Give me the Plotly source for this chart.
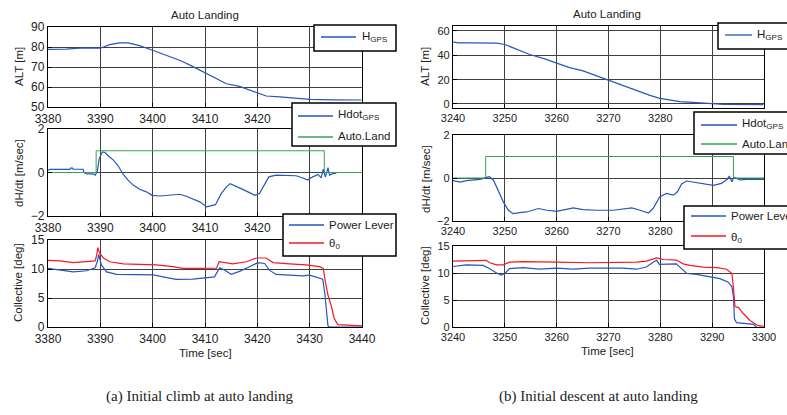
import plotly.graph_objects as go

W, H = 787, 415

# ---------------- Data: panel (a) initial climb ----------------
a_alt_t = [3380, 3383.5, 3386.7, 3389, 3390, 3391.8, 3393.7, 3395.3, 3397.5, 3400, 3402.6, 3405.5,
           3407.7, 3410, 3412.2, 3414.1, 3416.6, 3419.2, 3421.7, 3424.3, 3426.8, 3430, 3434.5, 3439.9]
a_alt = [78.8, 78.9, 79.6, 79.5, 79.4, 81.2, 82.1, 82.1, 80.7, 78.4, 75.8, 73.0,
         70.2, 67.2, 64.0, 61.6, 60.3, 57.8, 55.5, 55.1, 54.6, 53.8, 53.6, 53.5]

a_hdot_t = [3380, 3380.4, 3384.2, 3384.3, 3384.7, 3384.8, 3386.7, 3386.9, 3387.4, 3388.6, 3389, 3389.4,
            3389.8, 3390.4, 3390.9, 3391.5, 3392.5, 3393.4, 3394.4, 3395.3, 3396.3, 3397.5, 3398.8,
            3399.9, 3401.4, 3403.3, 3405.2, 3406.4, 3407.7, 3409, 3410.3, 3411.2, 3412, 3413.1,
            3414.1, 3414.8, 3416, 3416.9, 3418.2, 3419.5, 3420.4, 3421.4, 3422.2, 3423.6, 3425.5,
            3427.4, 3428.7, 3429.6, 3430.6, 3431.6, 3432.2, 3432.6, 3433, 3433.5, 3433.8, 3434.4, 3435.1]
a_hdot = [0.1, 0.14, 0.14, 0.2, 0.2, 0.15, 0.15, 0.0, -0.06, -0.06, -0.12, 0.03,
          0.65, 0.95, 0.92, 0.77, 0.57, 0.31, -0.09, -0.35, -0.58, -0.77, -0.89,
          -1.05, -1.08, -1.05, -1.0, -1.09, -1.23, -1.35, -1.58, -1.51, -1.48, -0.97,
          -0.66, -0.51, -0.66, -0.74, -0.89, -1.05, -0.97, -0.51, -0.2, -0.12, -0.15,
          -0.15, -0.25, -0.35, -0.2, -0.09, -0.25, 0.15, -0.2, 0.22, -0.12, -0.05, -0.03]

a_auto_t = [3380, 3389.2, 3432.8, 3440]
a_auto = [0, 1, 0, 0]

a_pl_t = [3380, 3382.3, 3384.8, 3387.4, 3389, 3389.4, 3389.7, 3390.2, 3391.2, 3393.1, 3397.5, 3400.1,
          3402, 3404.5, 3407.7, 3410.3, 3411.8, 3412.8, 3413.8, 3415, 3416.6, 3418.5, 3420.1,
          3421.4, 3422.3, 3423.6, 3426.8, 3428.7, 3430, 3431.2, 3432.5, 3432.9, 3433.3, 3433.5,
          3433.8, 3440]
a_pl = [10.1, 9.8, 9.5, 9.7, 10.2, 11.25, 12.5, 10.7, 9.5, 9.06, 9.06, 9.0,
        8.65, 8.2, 8.25, 8.5, 8.65, 10.2, 9.8, 9.1, 9.6, 10.4, 11.1,
        10.95, 9.8, 9.06, 8.94, 8.8, 8.94, 8.65, 8.25, 5.77, 2.0, 0.17,
        0.0, 0.0]

a_th_t = [3380, 3382.3, 3384.8, 3387.4, 3389, 3389.3, 3389.5, 3389.9, 3390.6, 3391.8, 3394.4, 3397.5,
          3400.7, 3403.9, 3405.8, 3409, 3412.2, 3412.7, 3414.1, 3415.3, 3417.9, 3419.8, 3421.7,
          3423, 3426.2, 3429.3, 3431.9, 3432.6, 3433, 3433.5, 3434.1, 3434.7, 3435.4, 3437, 3440]
a_th = [11.5, 11.4, 11.1, 11.25, 11.4, 12.4, 13.7, 12.7, 11.9, 11.25, 10.9, 10.8,
        10.7, 10.4, 10.1, 10.1, 10.15, 11.25, 11.1, 10.9, 11.25, 11.9, 11.9,
        11.1, 10.9, 10.7, 10.4, 10.1, 7.8, 5.5, 3.75, 1.44, 0.4, 0.3, 0.2]

# ---------------- Data: panel (b) initial descent ----------------
b_alt_t = [3240, 3241, 3243.9, 3248.4, 3250, 3252.2, 3254.8, 3257.4, 3260, 3262.5, 3265.1, 3267.7,
           3270, 3272.8, 3275.4, 3278, 3279.9, 3281.9, 3283.8, 3287, 3289.6, 3292.2, 3299.9]
b_alt = [51.0, 50.2, 50.2, 50.0, 48.9, 45.1, 40.7, 37.5, 33.4, 29.9, 27.2, 23.1,
         19.3, 15.2, 11.1, 7.1, 4.6, 3.3, 1.9, 1.1, 0.5, -0.3, -0.5]

b_hdot_t = [3240, 3241.4, 3242.6, 3243.9, 3245.2, 3246.5, 3247, 3247.8, 3248.7, 3249.7, 3250.7, 3251.6,
            3252.9, 3254.2, 3256.5, 3258.1, 3260, 3263.2, 3265.1, 3267.7, 3270.9, 3274.5, 3276.1,
            3277.7, 3278.6, 3279.9, 3281.2, 3282.5, 3283.3, 3284.1, 3285.1, 3287, 3288.9, 3290.2,
            3291.8, 3292.9, 3293.3, 3293.8, 3294.2, 3295.4, 3297.3, 3300]
b_hdot = [-0.125, -0.19, -0.125, -0.09, -0.06, 0.03, 0.06, -0.09, -0.56, -1.11, -1.5, -1.66,
          -1.61, -1.58, -1.42, -1.5, -1.55, -1.39, -1.47, -1.5, -1.5, -1.39, -1.5,
          -1.63, -1.42, -0.875, -0.72, -0.8, -0.64, -0.28, -0.14, -0.22, -0.28, -0.34,
          -0.25, -0.06, 0.09, -0.17, 0.03, -0.09, -0.05, -0.06]

b_auto_t = [3240, 3246.3, 3294.1, 3300]
b_auto = [0, 1, 0, 0]

b_pl_t = [3240, 3242.6, 3245.8, 3247.1, 3248.4, 3249.3, 3250, 3250.9, 3253.5, 3256.7, 3260, 3263.2,
          3266.4, 3272.8, 3275.4, 3277.3, 3278.6, 3279.3, 3279.8, 3281.2, 3283.1, 3284.1, 3285.1,
          3287, 3288.9, 3291.5, 3293.1, 3293.8, 3294.1, 3294.3, 3294.7, 3296.7, 3298, 3298.5, 3298.9]
b_pl = [11.2, 11.5, 11.4, 10.8, 10.0, 9.6, 9.9, 10.8, 11.0, 10.7, 10.9, 10.7,
        10.9, 10.9, 10.7, 11.1, 12.0, 12.35, 11.6, 11.7, 11.7, 10.8, 9.9,
        9.75, 9.4, 8.95, 8.3, 7.5, 5.6, 1.5, 0.8, 0.6, 0.5, 0.0, -0.1]

b_th_t = [3240, 3243.9, 3246.4, 3247.1, 3248.4, 3249.7, 3250.9, 3253.5, 3256.7, 3260, 3266.4, 3272.8,
          3275.4, 3277.3, 3279.3, 3280.6, 3283.1, 3284.4, 3285.7, 3288.3, 3290.9, 3292.8, 3293.8,
          3294.1, 3294.4, 3295.1, 3296, 3297.3, 3298.3, 3298.9, 3299.9]
b_th = [12.2, 12.35, 12.35, 11.9, 11.5, 11.5, 12.0, 12.1, 12.0, 12.0, 11.9, 12.0,
        12.0, 12.2, 12.8, 12.5, 12.4, 11.7, 11.4, 11.1, 11.0, 10.7, 9.9,
        7.4, 3.8, 3.6, 2.5, 1.2, 0.5, 0.25, 0.1]

a_xticks = [3380, 3390, 3400, 3410, 3420, 3430, 3440]
b_xticks = [3240, 3250, 3260, 3270, 3280, 3290, 3300]

BLUE = "rgb(38,86,190)"
GREEN = "rgb(60,160,80)"
RED = "rgb(245,25,35)"
TXT = "#222222"
GRID = "#404040"


def px(x):
    return x / W


def py(y):
    return 1 - y / H


fig = go.Figure()

subplots = [
    ("", (48, 362), (27, 107), (3380, 3440), (50, 90), [50, 60, 70, 80, 90], a_xticks, 12),
    ("2", (48, 362), (129, 216), (3380, 3440), (-2, 2), [-2, 0, 2], a_xticks, 12),
    ("3", (48, 362), (240, 327), (3380, 3440), (0, 15), [0, 5, 10, 15], a_xticks, 12),
    ("4", (453, 764), (26, 108), (3240, 3300), (-3.3, 64.1), [0, 20, 40, 60], b_xticks, 11),
    ("5", (453, 764), (135, 221), (3240, 3300), (-2, 2), [-2, 0, 2], b_xticks, 11),
    ("6", (453, 764), (246, 327), (3240, 3300), (0, 15), [0, 5, 10, 15], b_xticks, 11),
]

axis_common = dict(showgrid=True, gridcolor=GRID, gridwidth=1, showline=True, linecolor="black",
                   linewidth=1.3, mirror=True, ticks="inside", ticklen=4, tickcolor="black",
                   zeroline=False, fixedrange=True)

layout_axes = {}
for suf, xd, yd, xr, yr, yt, xt, fs in subplots:
    layout_axes["xaxis" + suf] = dict(domain=[px(xd[0]), px(xd[1])], range=list(xr), tickvals=xt,
                                      anchor="y" + suf,
                                      tickfont=dict(family="Liberation Sans, Arial", size=fs, color=TXT),
                                      **axis_common)
    layout_axes["yaxis" + suf] = dict(domain=[py(yd[1]), py(yd[0])], range=list(yr), tickvals=yt,
                                      anchor="x" + suf,
                                      tickfont=dict(family="Liberation Sans, Arial", size=fs, color=TXT),
                                      **axis_common)


def add_line(x, y, color, ax, shape="linear", width=1.2):
    fig.add_trace(go.Scatter(x=x, y=y, mode="lines", line=dict(color=color, width=width, shape=shape),
                             xaxis="x" + ax, yaxis="y" + ax, showlegend=False, hoverinfo="skip"))


add_line(a_alt_t, a_alt, BLUE, "")
add_line(a_hdot_t, a_hdot, BLUE, "2")
add_line(a_auto_t, a_auto, GREEN, "2", shape="hv", width=1)
add_line(a_pl_t, a_pl, BLUE, "3")
add_line(a_th_t, a_th, RED, "3")
add_line(b_alt_t, b_alt, BLUE, "4")
add_line(b_hdot_t, b_hdot, BLUE, "5")
add_line(b_auto_t, b_auto, GREEN, "5", shape="hv", width=1)
add_line(b_pl_t, b_pl, BLUE, "6")
add_line(b_th_t, b_th, RED, "6")

shapes = []
annotations = []
FONT = "Liberation Sans, Arial"


def legend_box(x0, y0, x1, y1, items):
    shapes.append(dict(type="rect", xref="paper", yref="paper", x0=px(x0), x1=px(x1), y0=py(y1), y1=py(y0),
                       line=dict(color="black", width=1.5), fillcolor="white", layer="above"))
    for lx0, lx1, ly, color, tx, ty, text in items:
        shapes.append(dict(type="line", xref="paper", yref="paper", x0=px(lx0), x1=px(lx1), y0=py(ly), y1=py(ly),
                           line=dict(color=color, width=1.3), layer="above"))
        annotations.append(dict(x=px(tx), y=py(ty), xref="paper", yref="paper", text=text, showarrow=False,
                                xanchor="left", yanchor="middle",
                                font=dict(family=FONT, size=11.5, color=TXT)))


legend_box(314, 25, 396, 51, [(321, 356, 37, BLUE, 360, 37, "H<sub>GPS</sub>")])
legend_box(292, 103, 396, 146, [(298, 333, 116, BLUE, 336, 115, "Hdot<sub>GPS</sub>"),
                                (298, 333, 137, GREEN, 336, 136, "Auto.Land")])
legend_box(283, 214, 396, 256, [(289, 324, 225, BLUE, 327, 225, "Power Lever"),
                                (289, 324, 243, RED, 327, 244, "θ<sub>0</sub>")])
legend_box(718, 23, 805, 49, [(725, 752, 35, BLUE, 755, 35, "H<sub>GPS</sub>")])
legend_box(694, 112, 805, 154, [(701, 737, 125, BLUE, 740, 124, "Hdot<sub>GPS</sub>"),
                                (701, 737, 144, GREEN, 740, 144, "Auto.Land")])
legend_box(684, 206, 805, 249, [(691, 726, 216, BLUE, 729, 216, "Power Lever"),
                                (691, 726, 236, RED, 729, 238, "θ<sub>0</sub>")])


def text(x, y, t, size=11.5, angle=0, family=FONT):
    annotations.append(dict(x=px(x), y=py(y), xref="paper", yref="paper", text=t, showarrow=False,
                            xanchor="center", yanchor="middle", textangle=angle,
                            font=dict(family=family, size=size, color=TXT)))


text(205, 15, "Auto Landing", size=11.5)
text(607, 14, "Auto Landing", size=11.5)
text(19, 67, "ALT [m]", angle=-90)
text(19, 173, "dH/dt [m/sec]", angle=-90)
text(18, 283, "Collective [deg]", angle=-90)
text(425, 67, "ALT [m]", angle=-90)
text(426, 179, "dH/dt [m/sec]", angle=-90)
text(425, 286, "Collective [deg]", angle=-90)
text(205, 353, "Time [sec]")
text(607, 351, "Time [sec]")
text(200, 396, "(a) Initial climb at auto landing", size=15, family="Liberation Serif, Times New Roman")
text(598, 396, "(b) Initial descent at auto landing", size=15, family="Liberation Serif, Times New Roman")

fig.update_layout(width=W, height=H, margin=dict(l=0, r=0, t=0, b=0, autoexpand=False),
                  paper_bgcolor="white", plot_bgcolor="white", showlegend=False,
                  shapes=shapes, annotations=annotations, **layout_axes)

fig.write_html("out.html", config={"displayModeBar": False})
